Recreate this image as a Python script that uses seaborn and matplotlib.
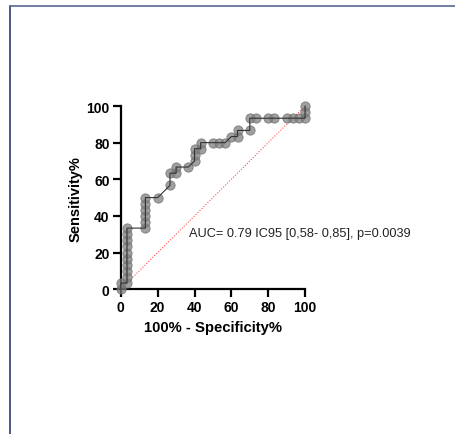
import numpy as np
import pandas as pd
import matplotlib
matplotlib.use("Agg")
import matplotlib.pyplot as plt
from matplotlib.lines import Line2D
import seaborn as sns

# ROC points (100% - specificity, sensitivity)
fpr = [0, 0, 3.33, 3.33, 3.33, 3.33, 3.33, 3.33, 3.33, 3.33, 3.33, 3.33,
       13.33, 13.33, 13.33, 13.33, 13.33, 13.33, 20, 26.67, 26.67, 30, 30,
       36.67, 40, 40, 40, 43.33, 43.33, 50, 53.33, 56.67, 60, 63.33, 63.33,
       70, 70, 73.33, 80, 83.33, 90, 93.33, 96.67, 100, 100, 100]
tpr = [0, 3.33, 3.33, 6.67, 10, 13.33, 16.67, 20, 23.33, 26.67, 30, 33.33,
       33.33, 36.67, 40, 43.33, 46.67, 50, 50, 56.67, 63.33, 63.33, 66.67,
       66.67, 70, 73.33, 76.67, 76.67, 80, 80, 80, 80, 83.33, 83.33, 86.67,
       86.67, 93.33, 93.33, 93.33, 93.33, 93.33, 93.33, 93.33, 93.33, 96.67, 100]
chance = [0, 100]
ticks = [0, 20, 40, 60, 80, 100]
label_auc = "AUC= 0.79 IC95 [0,58- 0,85], p=0.0039"

df = pd.DataFrame({"fpr": fpr, "tpr": tpr})

sns.set_style("ticks")
plt.rcParams["font.family"] = ["Liberation Sans", "DejaVu Sans"]
plt.rcParams["text.color"] = "black"
plt.rcParams["axes.labelcolor"] = "black"
plt.rcParams["xtick.color"] = "black"
plt.rcParams["ytick.color"] = "black"

fig = plt.figure(figsize=(4.56, 4.35), dpi=100)
ax = fig.add_axes([0.265, 0.333, 0.404, 0.421])

# diagonale de référence
sns.lineplot(x=chance, y=chance, ax=ax, color="#ff5050", linestyle=(0, (1, 1.5)),
             linewidth=0.8, zorder=1)

# points
sns.scatterplot(data=df, x="fpr", y="tpr", ax=ax, s=45, color="#7f7f7f",
                alpha=0.75, edgecolor="#6a6a6a", linewidth=0.6, zorder=3,
                clip_on=False)

# courbe
sns.lineplot(data=df, x="fpr", y="tpr", ax=ax, sort=False, estimator=None,
             color="#333333", linewidth=0.8, zorder=4)
for ln in ax.lines:
    ln.set_clip_on(False)

ax.set_xlim(0, 100)
ax.set_ylim(0, 100)
ax.set_xticks(ticks)
ax.set_yticks(ticks)
ax.tick_params(axis="both", direction="out", length=6, width=1.6,
               labelsize=10, pad=2, color="black", labelcolor="black")
for lab in ax.get_xticklabels() + ax.get_yticklabels():
    lab.set_fontweight("bold")
for side in ["left", "bottom"]:
    ax.spines[side].set_linewidth(1.6)
    ax.spines[side].set_color("black")
sns.despine(ax=ax)

ax.set_xlabel("100% - Specificity%", fontsize=10.7, fontweight="bold", labelpad=4)
ax.set_ylabel("Sensitivity%", fontsize=10.5, fontweight="bold", labelpad=3)

ax.text(37, 30.5, label_auc, fontsize=9.2, color="#222222", va="center", ha="left")

# cadre autour de la figure (haut et gauche)
fig.add_artist(Line2D([10.5 / 456, 10.5 / 456], [0, 1 - 7 / 435], color="#2e3b6e",
                      linewidth=1.2, transform=fig.transFigure))
fig.add_artist(Line2D([10 / 456, 1], [1 - 7 / 435, 1 - 7 / 435], color="#5a6690",
                      linewidth=1.2, transform=fig.transFigure))

fig.savefig("out.png", dpi=100)
